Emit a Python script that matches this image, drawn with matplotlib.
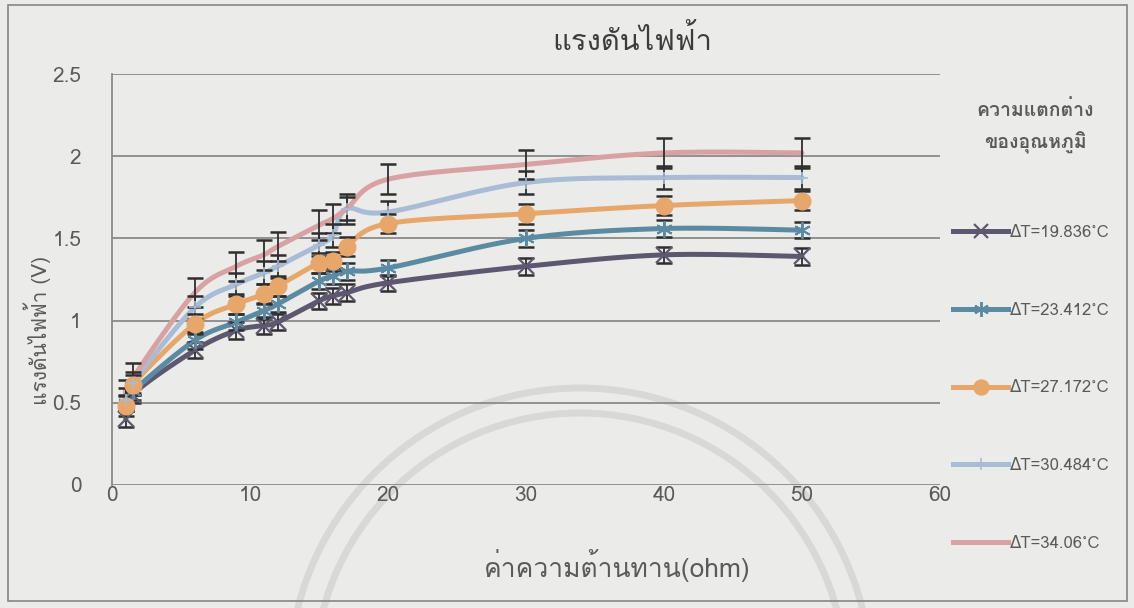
import numpy as np
import matplotlib
matplotlib.use("Agg")
import matplotlib.pyplot as plt
from matplotlib import font_manager
from matplotlib.ft2font import FT2Font
from matplotlib.lines import Line2D
from matplotlib.patches import Rectangle, Arc

# ---- data -------------------------------------------------------------
resistance = [1, 1.5, 6, 9, 11, 12, 15, 16, 17, 20, 30, 40, 50]

v_dt19836 = [0.40, 0.55, 0.82, 0.94, 0.97, 0.99, 1.12, 1.15, 1.17, 1.23, 1.33, 1.40, 1.39]
v_dt23412 = [0.50, 0.57, 0.88, 0.99, 1.06, 1.10, 1.24, 1.27, 1.30, 1.32, 1.50, 1.56, 1.55]
v_dt27172 = [0.48, 0.61, 0.98, 1.10, 1.16, 1.21, 1.35, 1.36, 1.45, 1.59, 1.65, 1.70, 1.73]
v_dt30484 = [0.52, 0.62, 1.08, 1.22, 1.29, 1.33, 1.46, 1.52, 1.68, 1.66, 1.84, 1.87, 1.87]
v_dt3406 = [0.55, 0.65, 1.17, 1.33, 1.40, 1.45, 1.58, 1.62, 1.68, 1.86, 1.95, 2.02, 2.02]

err_dt19836 = [0.05] * len(resistance)
err_dt23412 = [0.05] * len(resistance)
err_dt27172 = [0.06] * len(resistance)
err_dt30484 = [0.07] * len(resistance)
err_dt3406 = [0.09] * len(resistance)

series_labels = ["ΔT=19.836˚C", "ΔT=23.412˚C", "ΔT=27.172˚C", "ΔT=30.484˚C", "ΔT=34.06˚C"]
x_ticks = [0, 10, 20, 30, 40, 50, 60]
y_ticks = [0, 0.5, 1, 1.5, 2, 2.5]

title_text = "แรงดันไฟฟ้า"
x_label = "ค่าความต้านทาน(ohm)"
y_label = "แรงดันไฟฟ้า (V)"
legend_title = ["ความแตกต่าง", "ของอุณหภูมิ"]


# ---- fonts: find a family that has Thai glyphs --------------------------
def find_thai_family():
    preferred = []
    others = []
    for f in font_manager.fontManager.ttflist:
        try:
            cmap = FT2Font(f.fname).get_charmap()
        except Exception:
            continue
        if 0x0E41 in cmap and 0x0E14 in cmap and 0x0E49 in cmap:
            if "Thai" in f.name or "Loma" in f.name or "Garuda" in f.name:
                preferred.append(f.name)
            else:
                others.append(f.name)
    found = preferred + others
    return found[0] if found else None


thai = find_thai_family()
families = [thai, "DejaVu Sans"] if thai else ["DejaVu Sans"]
plt.rcParams["font.family"] = families

# ---- styling ----------------------------------------------------------
bg = "#ebebe9"
grid_c = "#8a8a8a"
text_c = "#5a5a5a"

colors = ["#5e5770", "#5b8ba2", "#e8a76a", "#a8bcd6", "#d9a2a2"]
markers = ["x", (6, 2, 0), "o", "+", None]
msizes = [11, 12, 12, 9, 0]
mews = [1.6, 1.4, 1.0, 1.2, 0]

W, H = 1134, 608
fig = plt.figure(figsize=(W / 100, H / 100), dpi=100, facecolor=bg)

ax_l, ax_r, ax_t, ax_b = 112, 940, 74, 485
ax = fig.add_axes([ax_l / W, 1 - ax_b / H, (ax_r - ax_l) / W, (ax_b - ax_t) / H])
ax.set_facecolor("none")
ax.set_xlim(0, 60)
ax.set_ylim(0, 2.5)
ax.set_xticks(x_ticks)
ax.set_yticks(y_ticks)
ax.set_xticklabels([str(t) for t in x_ticks])
ax.set_yticklabels(["0", "0.5", "1", "1.5", "2", "2.5"])
ax.tick_params(length=0, labelsize=15, colors=text_c)
ax.tick_params(axis="y", pad=22)
ax.tick_params(axis="x", pad=1)
ax.yaxis.grid(True, color=grid_c, lw=1.3, zorder=0)
ax.set_axisbelow(True)
for s in ["top", "right", "bottom"]:
    ax.spines[s].set_visible(False)
ax.spines["left"].set_color(grid_c)
ax.spines["left"].set_linewidth(1.3)

# faint seal rings printed behind the chart
for r, lw in [(291, 5), (266, 5)]:
    fig.add_artist(Arc((580 / W, 1 - 679 / H), 2 * r / W, 2 * r / H, theta1=0, theta2=180,
                       transform=fig.transFigure, color="#d8d8d6", lw=lw, zorder=-1))

# chart frame
fig.add_artist(Rectangle((8 / W, 1 - 601 / H), (1127 - 8) / W, (601 - 5) / H,
                         transform=fig.transFigure, fill=False, ec="#858585", lw=1.2))

# pixel-per-unit scale so smoothing happens in screen proportions
sx = (ax_r - ax_l) / 60.0
sy = (ax_b - ax_t) / 2.5


def smooth_curve(xs, ys, n=24):
    P = np.column_stack([np.asarray(xs, float) * sx, np.asarray(ys, float) * sy])
    P = np.vstack([P[0], P, P[-1]])
    parts = []
    t = np.linspace(0, 1, n)[:, None]
    for i in range(1, len(P) - 2):
        p0, p1, p2, p3 = P[i - 1], P[i], P[i + 1], P[i + 2]
        c1 = p1 + (p2 - p0) / 6.0
        c2 = p2 - (p3 - p1) / 6.0
        seg = (1 - t) ** 3 * p1 + 3 * (1 - t) ** 2 * t * c1 + 3 * (1 - t) * t ** 2 * c2 + t ** 3 * p2
        parts.append(seg if i == 1 else seg[1:])
    S = np.vstack(parts)
    return S[:, 0] / sx, S[:, 1] / sy


values = [v_dt19836, v_dt23412, v_dt27172, v_dt30484, v_dt3406]
errors = [err_dt19836, err_dt23412, err_dt27172, err_dt30484, err_dt3406]

handles = []
for i, (vals, errs) in enumerate(zip(values, errors)):
    cx, cy = smooth_curve(resistance, vals)
    ax.plot(cx, cy, color=colors[i], lw=3.6, solid_capstyle="round", zorder=2 + i * 0.01)
    ax.errorbar(resistance, vals, yerr=errs, fmt="none", ecolor="#2e2e2e",
                elinewidth=1.3, capsize=5.5, capthick=1.8, zorder=3)
    if markers[i] is not None:
        face = colors[i] if markers[i] == "o" else "none"
        ax.plot(resistance, vals, ls="none", marker=markers[i], ms=msizes[i],
                mec=colors[i], mfc=face, mew=mews[i], zorder=4)
    handles.append(Line2D([], [], color=colors[i], lw=3.6,
                          marker=markers[i] if markers[i] is not None else "",
                          ms=msizes[i] * 0.9, mec=colors[i],
                          mfc=colors[i] if markers[i] == "o" else "none", mew=mews[i]))

# titles
fig.text(632 / W, 1 - 40 / H, title_text, ha="center", va="center", fontsize=21, color="#3c3c3c")
fig.text(617 / W, 1 - 566 / H, x_label, ha="center", va="center", fontsize=19, color=text_c)
fig.text(37 / W, 1 - 330 / H, y_label, ha="center", va="center", rotation=90, fontsize=15, color=text_c)

# legend
fig.text(1035 / W, 1 - 110 / H, legend_title[0], ha="center", va="center", fontsize=14,
         fontweight="bold", color=text_c)
fig.text(1035 / W, 1 - 143 / H, legend_title[1], ha="center", va="center", fontsize=14,
         fontweight="bold", color=text_c)
fig.legend(handles, series_labels, loc="upper left", bbox_to_anchor=(953 / W, 1 - 225 / H),
           frameon=False, fontsize=12, labelcolor=text_c, handlelength=3.3, handletextpad=0.1,
           labelspacing=3.7, borderpad=0, borderaxespad=0)

fig.savefig("out.png", dpi=100, facecolor=bg)
